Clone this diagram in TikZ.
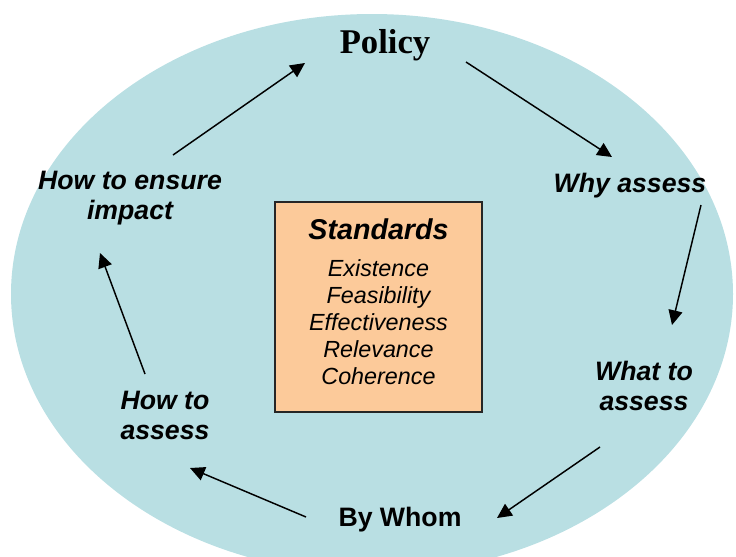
\documentclass[tikz,border=0pt]{standalone}
\usepackage{fontspec}
\setmainfont{Liberation Sans}
\newfontfamily\timesfont{Liberation Serif}
\usetikzlibrary{arrows.meta}
\definecolor{lakeblue}{RGB}{185,223,227}
\definecolor{peach}{RGB}{252,202,154}
\begin{document}
\begin{tikzpicture}[x=0.75pt, y=-0.75pt,
		lbl/.style={align=center, inner sep=0pt, font=\fontsize{20}{22.5}\selectfont\bfseries\itshape},
		arr/.style={line width=1.1pt, -{Triangle[length=11pt, width=10.5pt]}}]
		\useasboundingbox (0,0) rectangle (736,557);
		\clip (0,0) rectangle (736,557);
		\fill[lakeblue] (372,294) ellipse [x radius=361, y radius=280];
		
		\node[inner sep=0pt, font=\timesfont\bfseries\fontsize{26}{30}\selectfont] at (385,45) (Policy) {Policy};
		\node[lbl] at (630,186) (Why) {Why assess};
		\node[lbl] at (644,386) (What) {What to\\assess};
		\node[lbl, font=\fontsize{20}{22.5}\selectfont\bfseries] at (400,520) (Whom) {By Whom};
		\node[lbl] at (165,415) (How) {How to\\assess};
		\node[lbl] at (130,198) (Impact) {How to ensure\\impact};
		
		\node[draw=black!85, line width=1.5pt, fill=peach, minimum width=155pt, minimum height=157.5pt] at (378.5,307) (Std) {};
		\node[align=center, font=\fontsize{17.5}{20.25}\selectfont\itshape] at (378.5,302) (StdText)
			{{\fontsize{21.5}{25}\selectfont\bfseries Standards}\\[7.5pt]Existence\\Feasibility\\Effectiveness\\Relevance\\Coherence};
		
		\draw[arr] ([shift={(81,17)}]Policy.center) -- ([shift={(-18,-29)}]Why.center);
		\draw[arr] ([shift={(71,19)}]Why.center) -- ([shift={(28,-61)}]What.center);
		\draw[arr] ([shift={(-44,61)}]What.center) -- ([shift={(97,-2)}]Whom.center);
		\draw[arr] ([shift={(-94,-3)}]Whom.center) -- ([shift={(25,53)}]How.center);
		\draw[arr] ([shift={(-20,-41)}]How.center) -- ([shift={(-30,55)}]Impact.center);
		\draw[arr] ([shift={(43,-43)}]Impact.center) -- ([shift={(-80,18)}]Policy.center);
	\end{tikzpicture}
\end{document}
